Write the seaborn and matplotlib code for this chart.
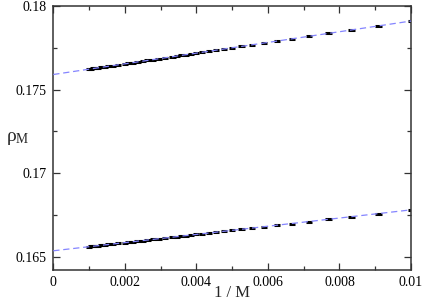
import matplotlib
matplotlib.use("Agg")
import matplotlib.pyplot as plt
import seaborn as sns
import pandas as pd
from matplotlib.ticker import MultipleLocator, FuncFormatter

# ---- data ----
M_values = [100, 110, 120, 130, 140, 150, 160, 170, 180, 190, 200, 210, 220, 230,
            240, 250, 260, 270, 280, 290, 300, 320, 340, 360, 380, 400, 425, 450,
            475, 500, 550, 600, 650, 700, 750, 800, 850, 900, 950, 1000]
rho_upper = [0.17910, 0.17881, 0.17857, 0.17836, 0.17819, 0.17803, 0.17790, 0.17778,
             0.17768, 0.17758, 0.17750, 0.17742, 0.17735, 0.17729, 0.17723, 0.17718,
             0.17713, 0.17709, 0.17704, 0.17700, 0.17697, 0.17690, 0.17684, 0.17679,
             0.17674, 0.17670, 0.17665, 0.17661, 0.17657, 0.17654, 0.17648, 0.17643,
             0.17639, 0.17636, 0.17633, 0.17630, 0.17628, 0.17626, 0.17624, 0.17622]
rho_lower = [0.16780, 0.16758, 0.16739, 0.16723, 0.16710, 0.16698, 0.16688, 0.16679,
             0.16671, 0.16664, 0.16658, 0.16652, 0.16646, 0.16642, 0.16637, 0.16633,
             0.16629, 0.16626, 0.16623, 0.16619, 0.16617, 0.16612, 0.16607, 0.16603,
             0.16599, 0.16596, 0.16593, 0.16589, 0.16587, 0.16584, 0.16580, 0.16576,
             0.16573, 0.16570, 0.16568, 0.16566, 0.16564, 0.16562, 0.16561, 0.16560]
fit_x = [0.0, 0.01]
fit_upper = [0.17590, 0.17910]
fit_lower = [0.16535, 0.16780]

x_ticks = [0, 0.002, 0.004, 0.006, 0.008, 0.01]
y_ticks = [0.165, 0.17, 0.175, 0.18]

inv_M = [1.0 / m for m in M_values]
pts = pd.DataFrame({"x": inv_M + inv_M,
                    "y": rho_upper + rho_lower,
                    "series": ["upper"] * len(inv_M) + ["lower"] * len(inv_M)})
fits = pd.DataFrame({"x": fit_x + fit_x,
                     "y": fit_upper + fit_lower,
                     "series": ["upper"] * 2 + ["lower"] * 2})

sns.set_style("ticks")
plt.rcParams["font.family"] = ["Liberation Serif", "DejaVu Serif"]
plt.rcParams["mathtext.fontset"] = "custom"
plt.rcParams["mathtext.rm"] = "Liberation Serif"
plt.rcParams["mathtext.it"] = "Liberation Serif:italic"

fig = plt.figure(figsize=(4.25, 3.03), dpi=100)
ax = fig.add_axes([0.1254, 0.1089, 0.8417, 0.8713])

sns.scatterplot(data=pts, x="x", y="y", hue="series",
                palette={"upper": "black", "lower": "black"},
                marker="_", s=20, linewidth=2.2, legend=False, ax=ax, zorder=2)
sns.lineplot(data=fits, x="x", y="y", units="series", estimator=None,
             color="#8585ff", linewidth=0.9, dashes=False, ax=ax, zorder=3)
for ln in ax.lines:
    ln.set_linestyle((0, (5, 3)))

ax.set_xlim(0, 0.01)
ax.set_ylim(0.1642, 0.18)
ax.set_xticks(x_ticks)
ax.set_yticks(y_ticks)
ax.xaxis.set_minor_locator(MultipleLocator(0.001))
ax.yaxis.set_minor_locator(MultipleLocator(0.0025))
fmt = FuncFormatter(lambda v, p: "%g" % round(v, 6))
ax.xaxis.set_major_formatter(fmt)
ax.yaxis.set_major_formatter(fmt)
ax.tick_params(which="both", direction="in", top=True, right=True,
               colors="#333333", labelcolor="black", labelsize=10, width=0.9)
ax.tick_params(which="major", length=5)
ax.tick_params(which="minor", length=3)
ax.tick_params(axis="y", which="major", pad=5)
ax.tick_params(axis="x", which="major", pad=4)
for sp in ax.spines.values():
    sp.set_visible(True)
    sp.set_color("#333333")
    sp.set_linewidth(1.1)

ax.set_xlabel("1 / M", fontsize=12, labelpad=-2.5)
ax.set_ylabel(r"$\mathrm{\rho}_{\mathrm{M}}$", fontsize=14, rotation=0, va="center")
ax.yaxis.set_label_coords(-0.1, 0.5)

fig.savefig("out.png", dpi=100)
